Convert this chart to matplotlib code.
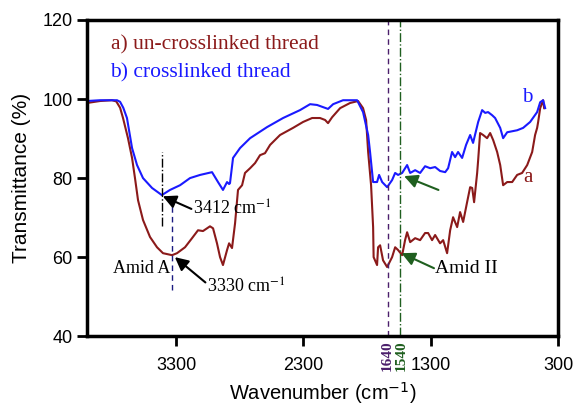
import matplotlib
matplotlib.use("Agg")
import matplotlib.pyplot as plt
import numpy as np

# b) crosslinked thread (blue)
wn_b = [4000, 3898, 3764, 3740, 3715, 3686, 3646, 3607, 3560, 3489, 3412, 3348, 3269, 3191,
        3112, 3018, 2971, 2932, 2900, 2884, 2877, 2853, 2798, 2719, 2586, 2460, 2327, 2248,
        2193, 2107, 2067, 1989, 1879, 1832, 1792, 1777, 1761, 1753, 1722, 1706, 1682, 1643,
        1604, 1580, 1557, 1525, 1486, 1462, 1423, 1384, 1345, 1305, 1266, 1227, 1187, 1164,
        1133, 1109, 1086, 1054, 1023, 991, 968, 928, 897, 873, 850, 818, 795, 755, 732, 700,
        622, 575, 520, 465, 441, 418, 402]
tr_b = [99.5, 99.7, 99.7, 99.3, 97.8, 95.2, 87.6, 83.3, 80.0, 77.5, 75.7, 77.0, 78.2, 80.0,
        80.8, 81.5, 79.0, 77.0, 79.0, 78.5, 78.7, 85.1, 87.6, 90.1, 92.9, 95.2, 97.2, 98.7,
        98.5, 97.5, 98.7, 99.7, 99.7, 96.7, 90.9, 86.6, 81.5, 79.0, 79.0, 80.8, 79.0, 77.7,
        79.5, 81.3, 80.8, 81.3, 83.3, 81.3, 82.0, 81.3, 83.0, 82.5, 82.8, 81.8, 81.5, 82.5,
        86.6, 85.3, 86.6, 85.1, 88.4, 90.9, 88.9, 94.2, 97.2, 96.5, 96.7, 95.9, 95.2, 92.7,
        90.1, 91.6, 92.1, 92.7, 94.2, 96.7, 99.2, 99.7, 97.7]

# a) un-crosslinked thread (dark red)
wn_a = [4000, 3898, 3804, 3770, 3740, 3717, 3678, 3646, 3623, 3599, 3560, 3505, 3450, 3403,
        3332, 3293, 3230, 3175, 3128, 3089, 3034, 3010, 2979, 2955, 2932, 2900, 2884, 2861,
        2837, 2814, 2782, 2759, 2719, 2680, 2641, 2602, 2562, 2484, 2382, 2303, 2232, 2170,
        2130, 2107, 2075, 2012, 1934, 1871, 1832, 1808, 1792, 1769, 1753, 1749, 1722, 1714,
        1698, 1675, 1643, 1604, 1580, 1557, 1525, 1502, 1486, 1462, 1423, 1384, 1345, 1321,
        1290, 1266, 1227, 1203, 1172, 1148, 1125, 1093, 1070, 1046, 1015, 991, 975, 960, 936,
        928, 913, 889, 858, 834, 810, 779, 755, 732, 700, 661, 622, 583, 543, 504, 481, 465,
        457, 441, 418, 410]
tr_a = [99.0, 99.5, 99.7, 99.4, 97.8, 95.2, 90.1, 85.1, 80.0, 74.4, 69.4, 65.1, 62.5, 61.0,
        60.5, 61.0, 62.5, 64.8, 66.8, 66.6, 67.8, 67.3, 63.5, 60.0, 58.0, 61.8, 63.5, 62.3,
        68.6, 77.0, 78.2, 81.3, 82.5, 83.8, 85.8, 86.3, 88.4, 90.9, 92.7, 94.2, 95.2, 95.2,
        94.7, 93.9, 95.4, 97.7, 99.0, 99.5, 97.7, 94.7, 86.6, 78.2, 67.6, 60.0, 58.0, 62.5,
        63.0, 59.2, 57.5, 60.0, 62.5, 61.8, 60.5, 64.3, 66.3, 63.8, 64.8, 64.3, 66.1, 66.1,
        64.3, 65.6, 63.5, 64.3, 61.0, 66.8, 70.1, 67.6, 71.4, 68.9, 73.9, 77.7, 77.5, 73.9,
        81.3, 84.6, 91.4, 90.9, 90.1, 91.4, 89.6, 86.6, 83.3, 78.2, 79.0, 79.0, 80.8, 81.3,
        83.3, 86.6, 90.9, 92.7, 94.2, 97.7, 99.7, 97.7]

RED = '#8b1a1a'
BLUE = '#1a1aff'
PURPLE = '#4b1f6b'
GREEN = '#1f5f1f'
serif = 'Liberation Serif'

plt.rcParams['font.family'] = 'Liberation Sans'

fig = plt.figure(figsize=(5.76, 4.08), dpi=100)
ax = fig.add_axes([0.151, 0.176, 0.818, 0.775])

ax.plot(wn_a, tr_a, color=RED, lw=1.5)
ax.plot(wn_b, tr_b, color=BLUE, lw=1.5)

# marker lines
ax.axvline(1640, color=PURPLE, ls=(0, (4, 3)), lw=1.0)
ax.axvline(1540, color=GREEN, ls='-.', lw=1.0)
ax.plot([3412, 3412], [68, 86.6], color='black', ls='-.', lw=1.0)
ax.plot([3330, 3330], [51.6, 73.2], color='#1a1a80', ls=(0, (4, 3)), lw=1.0)

ax.set_xlim(4000, 300)
ax.set_ylim(40, 120)
ax.set_xticks([3300, 2300, 1300, 300])
ax.set_yticks([40, 60, 80, 100, 120])
ax.tick_params(axis='both', labelsize=13, width=2, length=7, direction='out')
ax.tick_params(axis='x', pad=8)
for s in ax.spines.values():
    s.set_linewidth(2.5)

ax.set_xlabel('Wavenumber (cm$^{-1}$)', fontsize=14.5)
ax.xaxis.set_label_coords(0.5, -0.138)
ax.set_ylabel('Transmittance (%)', fontsize=15, labelpad=8)

# legend-like text
ax.text(3810, 113.7, 'a) un-crosslinked thread', color=RED, family=serif, fontsize=15.5,
        va='center')
ax.text(3820, 106.6, 'b) crosslinked thread', color=BLUE, family=serif, fontsize=15.5,
        va='center')
ax.text(540, 100.5, 'b', color=BLUE, family=serif, fontsize=15, ha='center', va='center')
ax.text(540, 80.2, 'a', color=RED, family=serif, fontsize=15, ha='center', va='center')

# annotations
arrow = dict(arrowstyle='-|>,head_length=0.8,head_width=0.4', color='black', lw=1.5,
             shrinkA=0, shrinkB=0)
ax.annotate('', xy=(3405, 75.4), xytext=(3180, 72.2), arrowprops=arrow)
ax.text(3170, 72.0, '3412 cm$^{-1}$', family=serif, fontsize=13, va='center',
        math_fontfamily='stix')
ax.annotate('', xy=(3310, 60.0), xytext=(3070, 53.6), arrowprops=arrow)
ax.text(3055, 52.5, '3330 cm$^{-1}$', family=serif, fontsize=13, va='center',
        math_fontfamily='stix')
ax.text(3345, 57.2, 'Amid A', family=serif, fontsize=13, ha='right', va='center')

garrow = dict(arrowstyle='-|>,head_length=0.8,head_width=0.4', color=GREEN, lw=1.5,
              shrinkA=0, shrinkB=0)
ax.annotate('', xy=(1510, 80.5), xytext=(1240, 77.0), arrowprops=garrow)
ax.annotate('', xy=(1530, 61.0), xytext=(1275, 57.2), arrowprops=garrow)
ax.text(1270, 57.0, 'Amid II', family=serif, fontsize=14, va='center')

# rotated wavenumber labels below the axis
trans = ax.get_xaxis_transform()
ax.text(1645, -0.012, '1640', transform=trans, rotation=90, color=PURPLE, family=serif,
        fontweight='bold', fontsize=11, ha='center', va='top')
ax.text(1535, -0.012, '1540', transform=trans, rotation=90, color=GREEN, family=serif,
        fontweight='bold', fontsize=11, ha='center', va='top')

fig.savefig('out.png', dpi=100)
